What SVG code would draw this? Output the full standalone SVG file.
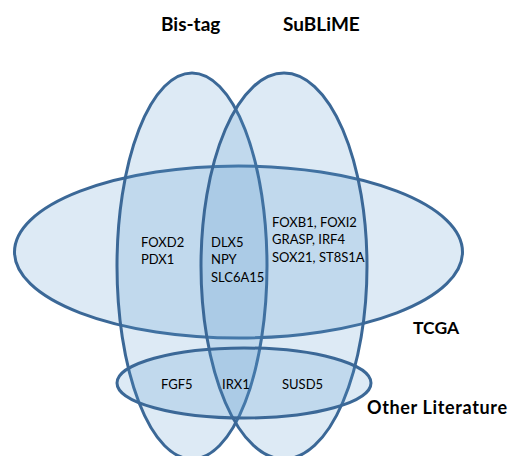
<svg xmlns="http://www.w3.org/2000/svg" width="514" height="456" viewBox="0 0 514 456">
<style>
.set{fill:rgba(85,150,205,0.2);stroke:#3b6897;stroke-width:3}
.lbl{font-family:Lato,"Liberation Sans",sans-serif;font-weight:bold;fill:#000}
.gene{font-family:Lato,"Liberation Sans",sans-serif;font-size:13px;fill:#000}
</style>
<rect width="514" height="456" fill="#fff"/>
<g id="tcga"><ellipse class="set" cx="238.5" cy="252" rx="224" ry="86"/></g>
<g id="bistag"><ellipse class="set" cx="192" cy="266" rx="75" ry="193"/></g>
<g id="sublime"><ellipse class="set" cx="284" cy="266" rx="83" ry="193"/></g>
<g id="other-literature"><ellipse class="set" cx="244" cy="383" rx="127" ry="35"/></g>
<g id="labels">
<text class="lbl" x="161" y="31" font-size="19">Bis-tag</text>
<text class="lbl" x="283" y="31" font-size="19">SuBLiME</text>
<text class="lbl" x="413" y="334" font-size="17.5">TCGA</text>
<text class="lbl" x="367" y="414" font-size="18" textLength="140" lengthAdjust="spacing">Other Literature</text>
</g>
<g id="genes">
<text class="gene" x="141" y="247">FOXD2</text>
<text class="gene" x="141" y="264">PDX1</text>
<text class="gene" x="211" y="247">DLX5</text>
<text class="gene" x="211" y="264">NPY</text>
<text class="gene" x="211" y="282">SLC6A15</text>
<text class="gene" x="272" y="227">FOXB1, FOXI2</text>
<text class="gene" x="272" y="244">GRASP, IRF4</text>
<text class="gene" x="272" y="262">SOX21, ST8S1A</text>
<text class="gene" x="161" y="389">FGF5</text>
<text class="gene" x="222" y="389">IRX1</text>
<text class="gene" x="282" y="389">SUSD5</text>
</g>
</svg>
